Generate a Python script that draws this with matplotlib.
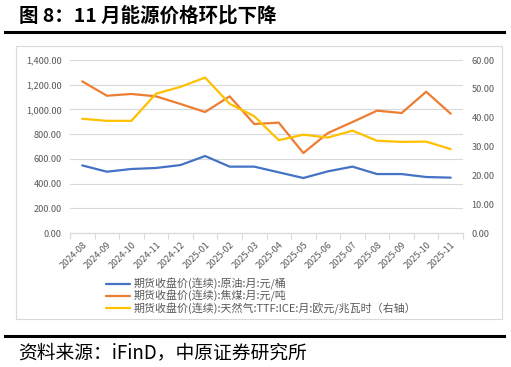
import matplotlib
matplotlib.use("Agg")
import matplotlib.pyplot as plt
from matplotlib.patches import Rectangle
from matplotlib.lines import Line2D
from matplotlib.ticker import FuncFormatter

plt.rcParams['font.family'] = ['Noto Sans CJK SC', 'DejaVu Sans']

months = ["2024-08", "2024-09", "2024-10", "2024-11", "2024-12", "2025-01", "2025-02", "2025-03",
          "2025-04", "2025-05", "2025-06", "2025-07", "2025-08", "2025-09", "2025-10", "2025-11"]
crude_oil = [547, 496, 518, 526, 550, 623, 537, 537, 491, 445, 499, 537, 477, 477, 453, 448]
coking_coal = [1227, 1111, 1125, 1106, 1044, 979, 1106, 882, 893, 647, 809, 898, 990, 971, 1143, 965]
ttf_gas = [39.6, 38.9, 38.9, 48.3, 50.7, 53.9, 44.8, 40.5, 32.2, 34.1, 33.1, 35.5, 32.0, 31.6, 31.7, 29.1]

labels = ["期货收盘价(连续):原油:月:元/桶",
          "期货收盘价(连续):焦煤:月:元/吨",
          "期货收盘价(连续):天然气:TTF:ICE:月:欧元/兆瓦时（右轴）"]
title = "图 8：11 月能源价格环比下降"
source = "资料来源：iFinD，中原证券研究所"

W, H = 511, 367
fig = plt.figure(figsize=(W / 100, H / 100), dpi=100)

def fx(x):
    return x / W

def fy(y):
    return 1 - y / H

# title and rules
fig.text(fx(19), fy(16), title, fontsize=14, fontweight='bold', va='center', ha='left', color='black')
fig.add_artist(Line2D([fx(5), fx(504)], [fy(32), fy(32)], color='black', lw=2.2))
fig.add_artist(Line2D([fx(5), fx(504)], [fy(335.5), fy(335.5)], color='black', lw=2.2))
fig.text(fx(18), fy(353), source, fontsize=13.5, va='center', ha='left', color='black')
fig.add_artist(Rectangle((fx(16), fy(319)), fx(502 - 16), (319 - 46) / H, fill=False,
                         edgecolor='#d9d9d9', lw=0.8))

ax = fig.add_axes([fx(70), fy(233), fx(463 - 70), (233 - 60) / H])
ax2 = ax.twinx()

x = list(range(len(months)))
gray = '#595959'
l1, = ax.plot(x, crude_oil, color='#4472C4', lw=1.6, solid_capstyle='round', solid_joinstyle='round')
l2, = ax.plot(x, coking_coal, color='#ED7D31', lw=1.6, solid_capstyle='round', solid_joinstyle='round')
l3, = ax2.plot(x, ttf_gas, color='#FFC000', lw=1.6, solid_capstyle='round', solid_joinstyle='round')

ax.set_xlim(-0.5, len(months) - 0.5)
ax.set_ylim(0, 1400)
ax.set_yticks(range(0, 1401, 200))
ax.yaxis.set_major_formatter(FuncFormatter(lambda v, p: f"{v:,.2f}"))
ax2.set_ylim(0, 60)
ax2.set_yticks(range(0, 61, 10))
ax2.yaxis.set_major_formatter(FuncFormatter(lambda v, p: f"{v:.2f}"))

ax.grid(axis='y', color='#d9d9d9', lw=0.8)
ax.set_axisbelow(True)
for a in (ax, ax2):
    for s in ('top', 'left', 'right'):
        a.spines[s].set_visible(False)
    a.spines['bottom'].set_color('#d9d9d9')
    a.spines['bottom'].set_linewidth(0.8)

ax.tick_params(axis='y', length=0, pad=6, labelsize=6.6, labelcolor=gray)
ax2.tick_params(axis='y', length=0, pad=6, labelsize=6.6, labelcolor=gray)

ax.set_xticks(x)
ax.set_xticklabels(months, rotation=45, ha='right', rotation_mode='anchor')
ax.tick_params(axis='x', which='major', length=0, pad=5, labelsize=6.6, labelcolor=gray)
ax.set_xticks([i - 0.5 for i in range(len(months) + 1)], minor=True)
ax.tick_params(axis='x', which='minor', length=4, color='#d9d9d9', width=0.8)

fig.legend([l1, l2, l3], labels, loc='upper left', bbox_to_anchor=(fx(106), fy(278)),
           frameon=False, fontsize=7.9, handlelength=2.2, handletextpad=0.3,
           labelspacing=0.0, borderaxespad=0, borderpad=0, labelcolor=gray)

fig.savefig("out.png", dpi=100)
